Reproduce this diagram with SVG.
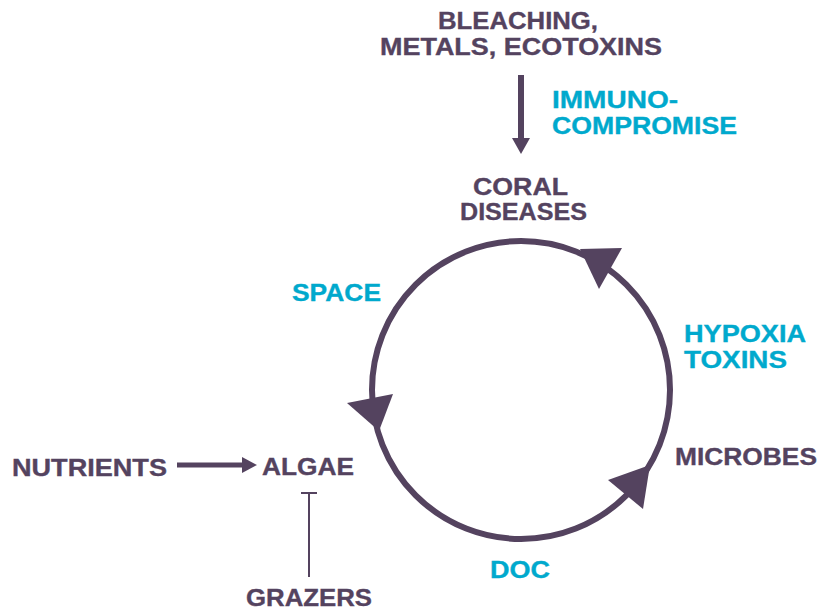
<svg xmlns="http://www.w3.org/2000/svg" width="819" height="610" viewBox="0 0 819 610">
  <style>
    text { font-family: "Liberation Sans", Arial, sans-serif; font-weight: bold; font-size: 23.5px; stroke-width: 0.35px; }
    .dk { fill: #54435f; stroke: #54435f; }
    .cy { fill: #00a9cd; stroke: #00a9cd; }
    .ln { stroke: #54435f; fill: none; }
    .hd { fill: #54435f; }
  </style>
  <rect width="819" height="610" fill="#ffffff"/>
  <g id="connectors">
    <line class="ln" x1="521" y1="75" x2="521" y2="140" stroke-width="6"/>
    <polygon class="hd" points="512,138 530,138 521,154"/>
    <circle class="ln" cx="521" cy="390" r="149" stroke-width="6"/>
    <polygon class="hd" points="580,249 622,248 599,289"/>
    <polygon class="hd" points="347,403 393,394 379,431"/>
    <polygon class="hd" points="608,480 650,465 643,509"/>
    <line class="ln" x1="177" y1="465" x2="244" y2="465" stroke-width="5"/>
    <polygon class="hd" points="242,457 257,465 242,473"/>
    <line class="ln" x1="309" y1="493" x2="309" y2="577" stroke-width="2"/>
    <line class="ln" x1="301" y1="493" x2="317" y2="493" stroke-width="2"/>
  </g>
  <g id="stressors">
    <text class="dk" x="438" y="29" textLength="160" lengthAdjust="spacingAndGlyphs">BLEACHING,</text>
    <text class="dk" x="380" y="55" textLength="282" lengthAdjust="spacingAndGlyphs">METALS, ECOTOXINS</text>
  </g>
  <g id="immuno">
    <text class="cy" x="552" y="108" textLength="126" lengthAdjust="spacingAndGlyphs">IMMUNO-</text>
    <text class="cy" x="552" y="134" textLength="185" lengthAdjust="spacingAndGlyphs">COMPROMISE</text>
  </g>
  <g id="coral">
    <text class="dk" x="473" y="195" textLength="95" lengthAdjust="spacingAndGlyphs">CORAL</text>
    <text class="dk" x="460" y="220" textLength="127" lengthAdjust="spacingAndGlyphs">DISEASES</text>
  </g>
  <g id="space">
    <text class="cy" x="292" y="301" textLength="89" lengthAdjust="spacingAndGlyphs">SPACE</text>
  </g>
  <g id="hypoxia">
    <text class="cy" x="684" y="342" textLength="122" lengthAdjust="spacingAndGlyphs">HYPOXIA</text>
    <text class="cy" x="684" y="368" textLength="103" lengthAdjust="spacingAndGlyphs">TOXINS</text>
  </g>
  <g id="microbes">
    <text class="dk" x="675" y="465" textLength="142" lengthAdjust="spacingAndGlyphs">MICROBES</text>
  </g>
  <g id="nutrients">
    <text class="dk" x="12" y="476" textLength="155" lengthAdjust="spacingAndGlyphs">NUTRIENTS</text>
  </g>
  <g id="algae">
    <text class="dk" x="262" y="475" textLength="92" lengthAdjust="spacingAndGlyphs">ALGAE</text>
  </g>
  <g id="grazers">
    <text class="dk" x="246" y="606" textLength="126" lengthAdjust="spacingAndGlyphs">GRAZERS</text>
  </g>
  <g id="doc">
    <text class="cy" x="490" y="578" textLength="60" lengthAdjust="spacingAndGlyphs">DOC</text>
  </g>
</svg>
